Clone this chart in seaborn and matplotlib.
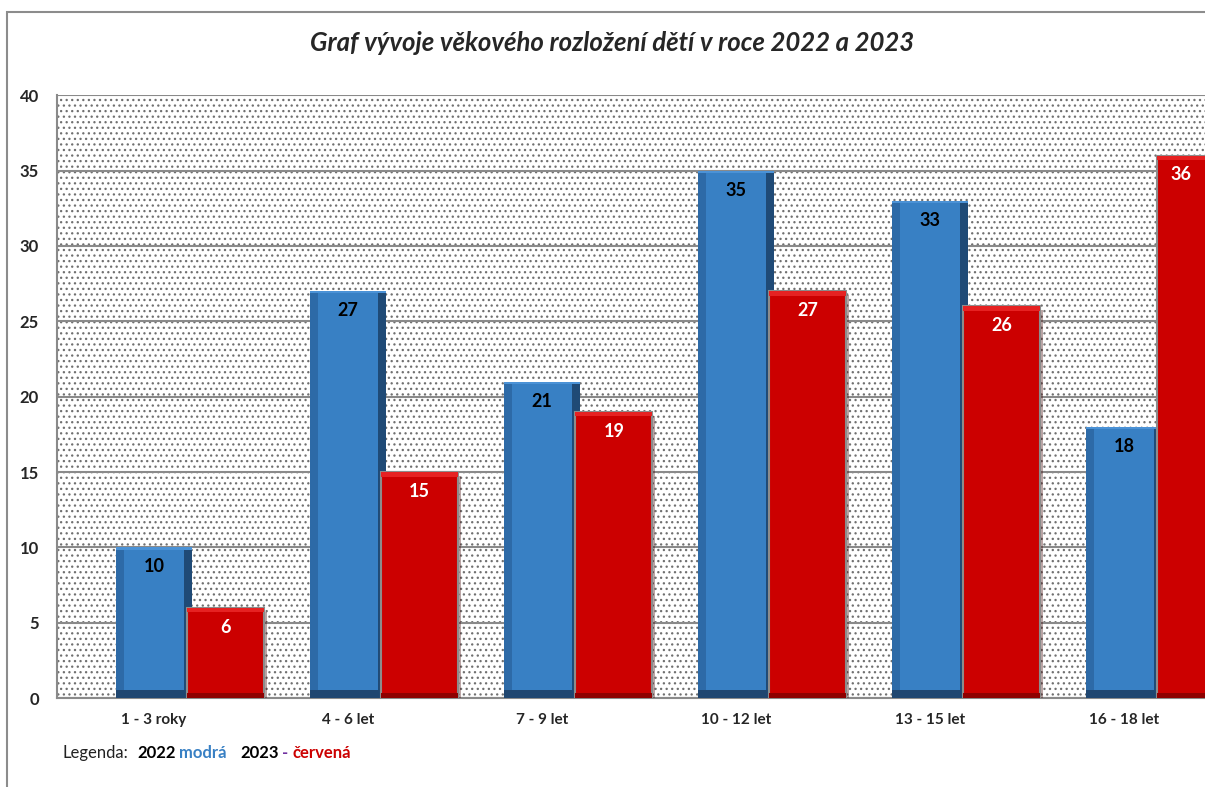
import matplotlib.pyplot as plt
import matplotlib.patheffects as pe
from matplotlib.patches import Rectangle
import seaborn as sns
import numpy as np
import pandas as pd

# data
kategorie = ['1 - 3 roky', '4 - 6 let', '7 - 9 let', '10 - 12 let', '13 - 15 let', '16 - 18 let']
roky = ['2022', '2023']
hodnoty_2022 = [10, 27, 21, 35, 33, 18]
hodnoty_2023 = [6, 15, 19, 27, 26, 36]

modra = '#3880c4'
cervena = '#cc0000'

df = pd.DataFrame({
    'kategorie': kategorie * 2,
    'rok': [roky[0]] * len(kategorie) + [roky[1]] * len(kategorie),
    'pocet': hodnoty_2022 + hodnoty_2023,
})

sns.set_style('white')
plt.rcParams['font.family'] = ['Lato', 'DejaVu Sans']
plt.rcParams['hatch.linewidth'] = 0.9

fig = plt.figure(figsize=(12.05, 7.87), dpi=100)
ax = fig.add_axes([0.0473, 0.113, 0.966, 0.766])

# teckovane pozadi
ax.patch.set_facecolor('white')
ax.patch.set_hatch('...')
ax.patch.set_edgecolor('#707070')
ax.patch.set_linewidth(0)

sns.barplot(data=df, x='kategorie', y='pocet', hue='rok', order=kategorie, hue_order=roky,
            palette=[modra, cervena], saturation=1, width=0.74, legend=False, ax=ax, zorder=3)

posun = 0.185
ax.set_xlim(-0.5 - posun, len(kategorie) - 0.5 - posun)
ax.set_ylim(0, 40)

# sloupce trochu sirsi, aby se prekryvaly jako v Excelu + zkoseni hran
for i, p in enumerate(ax.patches):
    stred = p.get_x() + p.get_width() / 2
    p.set_width(0.395)
    p.set_x(stred - 0.395 / 2)
    x0, w, h = p.get_x(), p.get_width(), p.get_height()
    if i < len(kategorie):
        p.set_linewidth(0)
        ax.add_patch(Rectangle((x0, 0), 0.042, h, color='#2d6aa7', zorder=3.1, lw=0))
        ax.add_patch(Rectangle((x0 + w - 0.045, 0), 0.045, h, color='#1f4a76', zorder=3.1, lw=0))
        ax.add_patch(Rectangle((x0, 0), w, 0.55, color='#1f4670', zorder=3.2, lw=0))
        ax.add_patch(Rectangle((x0, h - 0.15), w, 0.15, color='#4b92d6', zorder=3.2, lw=0))
    else:
        p.set_zorder(4)
        p.set_edgecolor('#8c8c8c')
        p.set_linewidth(1.5)
        p.set_path_effects([pe.SimplePatchShadow(offset=(2, -3), alpha=0.35), pe.Normal()])
        ax.add_patch(Rectangle((x0, h - 0.3), w, 0.3, color='#e62222', zorder=4.1, lw=0))
        ax.add_patch(Rectangle((x0, 0), w, 0.35, color='#8e0000', zorder=4.1, lw=0))

# popisky hodnot (posledni sloupec je oriznuty okrajem obrazku)
x_vid = ax.transData.inverted().transform(fig.transFigure.transform((1, 0)))[0]
for cont, barva in zip(ax.containers, ['black', 'white']):
    for p, v in zip(cont.patches, cont.datavalues):
        xl = p.get_x()
        xr = min(p.get_x() + p.get_width(), x_vid)
        ax.annotate(f'{int(v)}', ((xl + xr) / 2, v), xytext=(0, -14),
                    textcoords='offset points', ha='center', va='center',
                    fontsize=13, fontweight='bold', color=barva, zorder=6)

ax.set_yticks(range(0, 41, 5))
ax.yaxis.grid(True, color='#8a8a8a', linewidth=1.5, zorder=1)
ax.set_axisbelow(True)

stredy = np.arange(len(kategorie)) - posun
hranice = np.arange(len(kategorie) + 1) - 0.5 - posun
ax.set_xticks(hranice)
ax.set_xticklabels([])
ax.set_xticks(stredy, kategorie, minor=True)
ax.tick_params(axis='x', which='minor', length=0, pad=11, labelsize=11)
ax.tick_params(axis='x', which='major', length=5, color='#8a8a8a', width=1.2, direction='out')
ax.tick_params(axis='y', length=5, color='#8a8a8a', width=1.2, direction='out', labelsize=12, pad=8)
for lab in ax.get_xticklabels(minor=True) + ax.get_yticklabels():
    lab.set_fontweight('bold')

for s in ['top', 'right']:
    ax.spines[s].set_visible(False)
for s in ['left', 'bottom']:
    ax.spines[s].set_color('#8a8a8a')
    ax.spines[s].set_linewidth(1.5)
ax.set_xlabel('')
ax.set_ylabel('')

fig.text(0.508, 0.945, 'Graf vývoje věkového rozložení dětí v roce 2022 a 2023',
         ha='center', va='center', fontsize=18.5, fontweight='bold', fontstyle='italic')

# legenda jako text, kousky za sebou
legenda = [
    ('Legenda:', 'normal', '#222222', 10),
    ('2022', 'bold', 'black', 3),
    ('modrá', 'bold', modra, 14),
    ('2023', 'bold', 'black', 3),
    ('-', 'bold', '#7030a0', 4),
    ('červená', 'bold', cervena, 0),
]
renderer = fig.canvas.get_renderer()
x_px = 62
for txt, vaha, barva, mezera in legenda:
    t = fig.text(x_px / 1205, 0.043, txt, fontsize=12, fontweight=vaha, color=barva, va='center')
    x_px += t.get_window_extent(renderer).width + mezera

# ramecek grafu
fig.patches.append(Rectangle((7 / 1205, -0.1), 1.2, 1.1 - 12 / 787, transform=fig.transFigure,
                             fill=False, edgecolor='#8c8c8c', linewidth=1.5))

fig.savefig('out.png', dpi=100)
